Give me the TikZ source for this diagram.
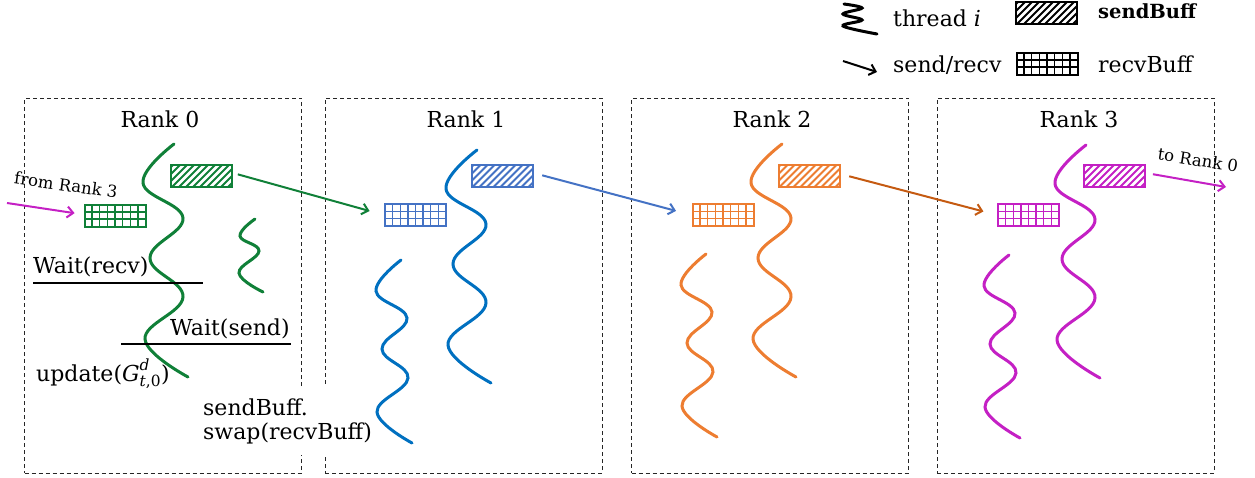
\documentclass[tikz,border=0pt]{standalone}
\usepackage{fontspec}
\usepackage{amsmath}
\setmainfont{DejaVu Serif}
\usetikzlibrary{arrows.meta}
\definecolor{tgreen}{RGB}{16,128,56}
\definecolor{tblue}{RGB}{0,112,192}
\definecolor{bblue}{RGB}{68,114,196}
\definecolor{torange}{RGB}{237,125,49}
\definecolor{aorange}{RGB}{197,90,17}
\definecolor{tmag}{RGB}{196,32,196}
\tikzset{
  txt/.style={font=\fontsize{22}{24}\selectfont, inner sep=0pt, text=black},
  smalltxt/.style={font=\fontsize{16.5}{19}\selectfont, inner sep=0pt, text=black},
  rankbox/.style={draw=black!85, line width=1pt, dash pattern=on 4pt off 3pt,
    minimum width=277pt, minimum height=375pt, inner sep=0pt},
  thread/.style={line width=3pt, line cap=round},
  sendbuf/.style={draw, line width=2pt, minimum width=61pt, minimum height=22pt, inner sep=0pt,
    path picture={\foreach \k in {0,...,12}{\draw[line width=2pt] ([shift={(\k*7-24,26)}]path picture bounding box.north west) -- ++(28,-28);}}},
  recvbuf/.style={draw, line width=2pt, minimum width=61pt, minimum height=22pt, inner sep=0pt,
    path picture={\foreach \k in {1,...,7}{\draw[line width=1.4pt] ([shift={(\k*7.625,-2)}]path picture bounding box.north west) -- ++(0,30);}
      \foreach \k in {1,2}{\draw[line width=1.4pt] ([shift={(-2,\k*7.33)}]path picture bounding box.north west) -- ++(70,0);}}},
  arr/.style={line width=2pt, -{Straight Barb[length=6pt,width=11pt,line width=2pt]}},
  longthread/.pic={\draw[thread] plot[smooth,tension=0.7] coordinates {(0,0)(-31,39)(9,74)(-24,114)(9,153)(-29,195)(14,233)};},
  shortthread/.pic={\draw[thread] plot[smooth,tension=0.7] coordinates {(0,0)(-25,31)(6,58)(-19,89)(7,118)(-24,152)(11,183)};},
}
\begin{document}
\begin{tikzpicture}[x=1pt,y=-1pt]
\useasboundingbox (0,0) rectangle (1255,477);
% rank boxes
\node[rankbox] (R0) at (163,285.5) {};
\node[rankbox] (R1) at (463.5,285.5) {};
\node[rankbox] (R2) at (770,285.5) {};
\node[rankbox] (R3) at (1075.5,285.5) {};
\node[txt, anchor=base] (T0) at (160,127) {Rank 0};
\node[txt, anchor=base] (T1) at (466,127) {Rank 1};
\node[txt, anchor=base] (T2) at (772,127) {Rank 2};
\node[txt, anchor=base] (T3) at (1079,127) {Rank 3};
% swap text (covers box edges)
\node[txt, fill=white, align=left, inner xsep=2pt, inner ysep=11pt, anchor=west] (swap) at (201,421) {sendBuff.\\swap(recvBuff)};
% threads
\pic[tgreen] at (174,144) {longthread};
\draw[thread, tgreen] plot[smooth,tension=0.7] coordinates {(255,219)(240,236)(259,251)(239,273)(263,292)};
\pic[tblue] at (477,150) {longthread};
\pic[tblue] at (401,260) {shortthread};
\pic[torange] at (782,144) {longthread};
\pic[torange] at (706,254) {shortthread};
\pic[tmag] at (1086,145) {longthread};
\pic[tmag] at (1009,255) {shortthread};
% buffers
\node[sendbuf, tgreen] (s0) at (201.5,176) {};
\node[recvbuf, tgreen] (r0) at (115,215.5) {};
\node[sendbuf, bblue] (s1) at (502,176) {};
\node[recvbuf, bblue] (r1) at (415.5,215) {};
\node[sendbuf, torange] (s2) at (809,176) {};
\node[recvbuf, torange] (r2) at (723,215) {};
\node[sendbuf, tmag] (s3) at (1114.5,176) {};
\node[recvbuf, tmag] (r3) at (1028.5,215) {};
% send/recv arrows
\coordinate (in0) at (7,203);
\coordinate (out3) at (1226,187);
\draw[arr, tgreen, shorten <=5pt, shorten >=15pt] ([yshift=3pt]s0.east) -- (r1.west);
\draw[arr, bblue, shorten <=9pt, shorten >=16pt] ([yshift=3pt]s1.east) -- (r2.west);
\draw[arr, aorange, shorten <=9pt, shorten >=14pt] ([yshift=2pt]s2.east) -- (r3.west);
\draw[arr, tmag, shorten <=7pt] ([yshift=3pt]s3.east) -- (out3);
\draw[arr, tmag, shorten >=9pt] (in0) -- ([yshift=1pt]r0.west);
\node[smalltxt, rotate=-8] (from3) at (66,185) {from Rank 3};
\node[smalltxt, rotate=-9] (to0) at (1198,160) {to Rank 0};
% wait lines and labels
\node[txt, anchor=base west] (wr) at (33,273) {Wait(recv)};
\coordinate (wr1) at (33,283); \coordinate (wr2) at (203,283);
\draw[line width=1.6pt] (wr1) -- (wr2);
\node[txt, anchor=base west] (ws) at (170,335) {Wait(send)};
\coordinate (ws1) at (121,344); \coordinate (ws2) at (291,344);
\draw[line width=1.6pt] (ws1) -- (ws2);
\node[txt, anchor=base west] (upd) at (36,381) {update($\textit{G}^{\textit{d}}_{\text{\textit{t},0}}$)};
% legend
\draw[thread, line width=3pt, black] plot[smooth,tension=0.6] coordinates {(844,4)(862,8)(843,14)(862,20)(843,26)(877,34)};
\node[txt, anchor=base west] (lt) at (893,26) {thread \textit{i}};
\coordinate (la1) at (843,61); \coordinate (la2) at (877,72);
\draw[arr, black] (la1) -- (la2);
\node[txt, anchor=base west] (ls) at (893,72) {send/recv};
\node[sendbuf, black] (lsb) at (1046.5,13) {};
\node[recvbuf, black] (lrb) at (1047,63.5) {};
\node[txt, anchor=base west, font=\fontsize{19.5}{22}\selectfont\bfseries] (lsbt) at (1098,18) {sendBuff};
\node[txt, anchor=base west] (lrbt) at (1098,72) {recvBuff};
\end{tikzpicture}
\end{document}
